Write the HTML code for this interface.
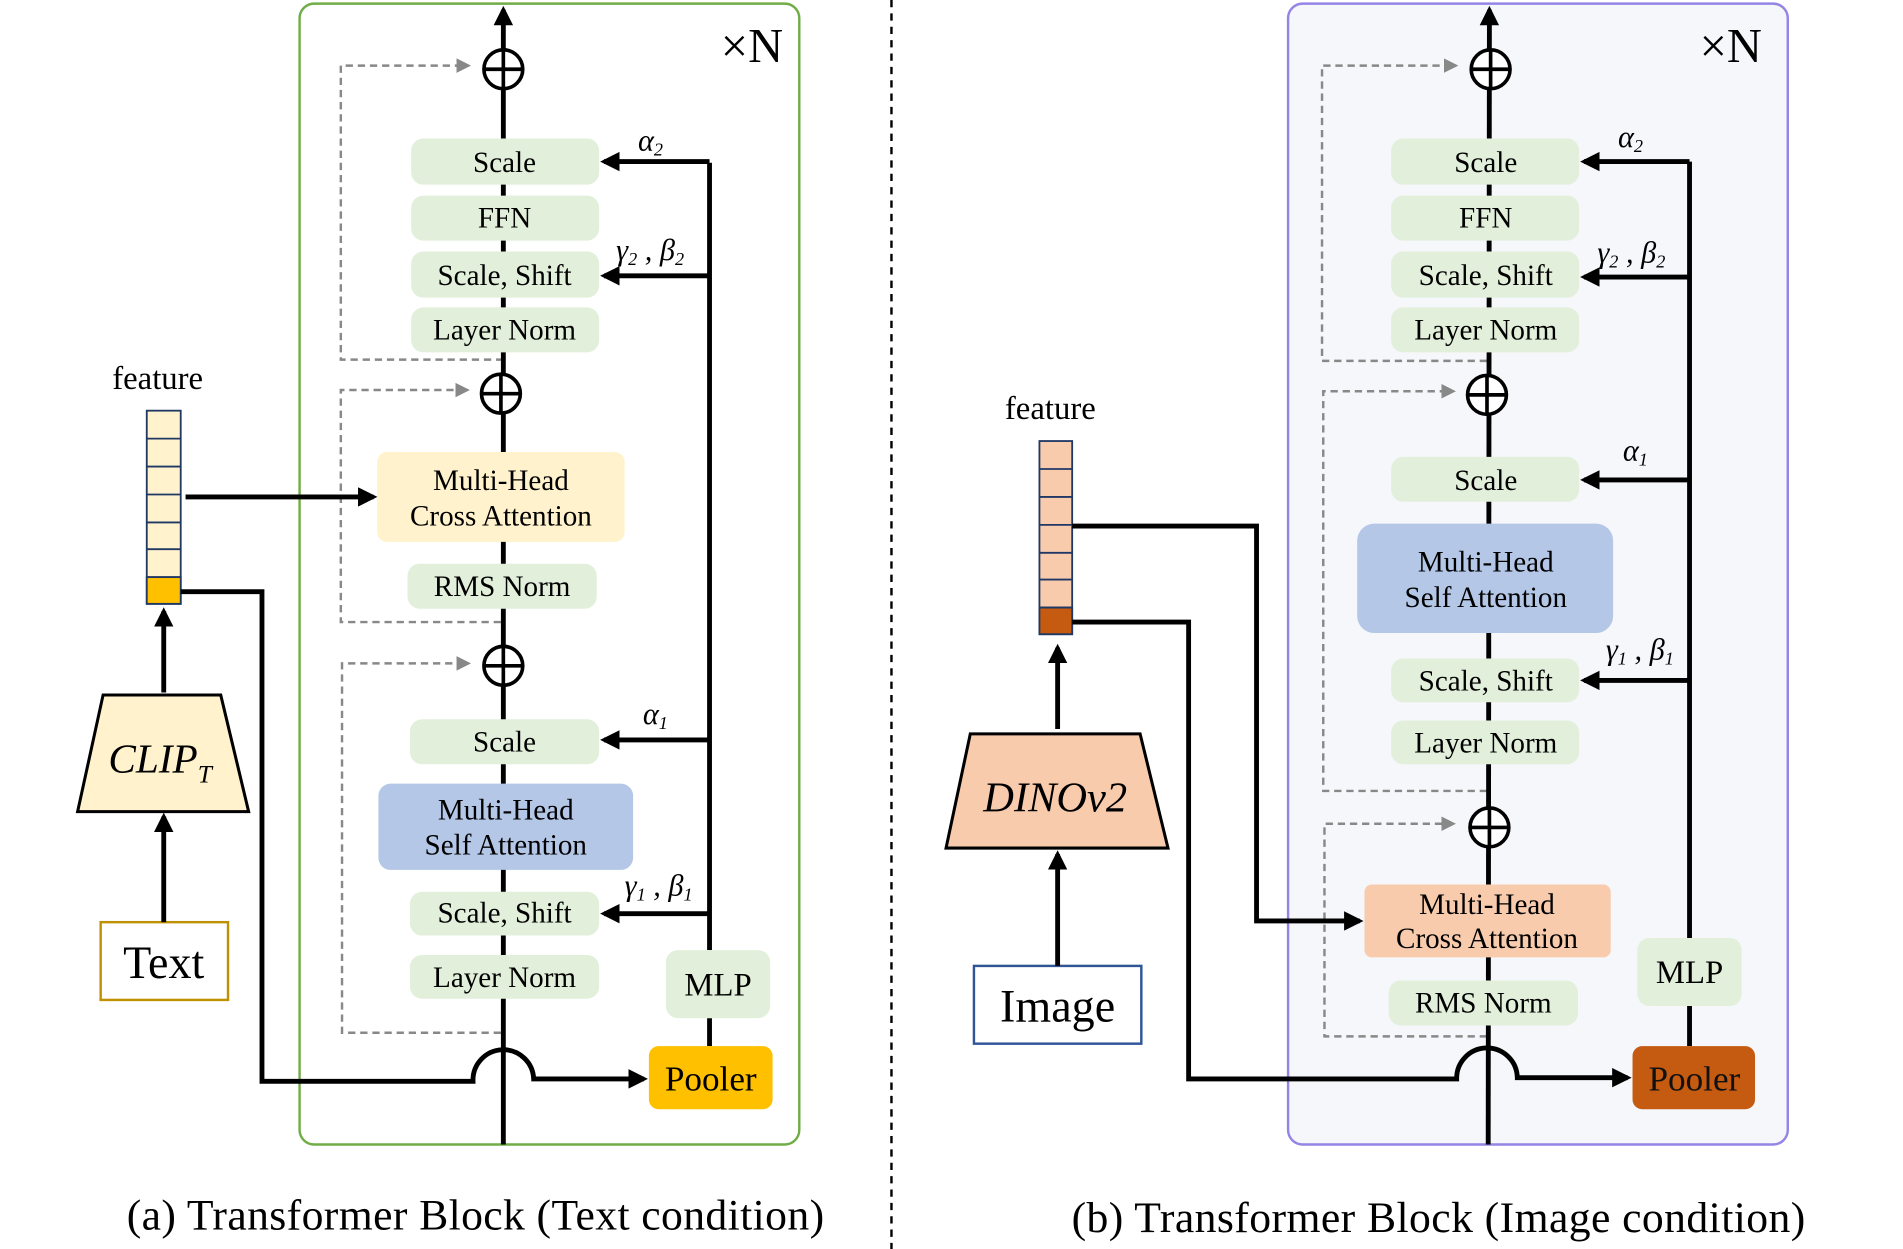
<!DOCTYPE html>
<html><head><meta charset="utf-8"><style>html,body{margin:0;padding:0;background:#fff}svg{display:block}</style></head>
<body>
<svg width="1903" height="1249" viewBox="0 0 1569 1028" preserveAspectRatio="none" xmlns="http://www.w3.org/2000/svg" font-family="Liberation Serif, serif">
<defs>
<marker id="a" viewBox="0 0 10 10" refX="8" refY="5" markerWidth="4" markerHeight="4" orient="auto"><path d="M0,0L10,5L0,10z" fill="#000"/></marker>
<marker id="g" viewBox="0 0 10 10" refX="8" refY="5" markerWidth="6" markerHeight="6" orient="auto"><path d="M0,0L10,5L0,10z" fill="#888"/></marker>
</defs>
<style>
.t{text-anchor:middle;dominant-baseline:central}
.k{stroke:#000;stroke-width:4;fill:none}
.d{stroke:#888;stroke-width:2;fill:none;stroke-dasharray:6 4}
.gr{fill:#e2efda}
.m{font-style:italic}
</style>

<!-- LEFT PANEL -->
<rect x="247" y="3" width="412" height="939" rx="12" fill="#fff" stroke="#70ad47" stroke-width="2"/>
<text x="620" y="51" font-size="40" text-anchor="middle">×N</text>
<path class="d" d="M415,296H281V54H386" marker-end="url(#g)"/>
<path class="d" d="M413,512H281V321H385" marker-end="url(#g)"/>
<path class="d" d="M413,850H282V546H386" marker-end="url(#g)"/>
<line class="k" x1="415" y1="942" x2="415" y2="8" marker-end="url(#a)"/>
<line class="k" x1="585" y1="134" x2="585" y2="782"/>
<line class="k" x1="585" y1="838" x2="585" y2="861"/>
<g stroke="#000" stroke-width="4" marker-end="url(#a)">
<line x1="585" y1="133" x2="498" y2="133"/><line x1="585" y1="227" x2="498" y2="227"/>
<line x1="585" y1="609" x2="498" y2="609"/><line x1="585" y1="752" x2="498" y2="752"/>
</g>
<g fill="#fff" stroke="#000" stroke-width="3">
<circle cx="415" cy="57" r="16"/><circle cx="413" cy="324" r="16"/><circle cx="415" cy="548" r="16"/>
</g>
<g stroke="#000" stroke-width="3">
<path d="M399,57H431M415,41V73M397,324H429M413,308V340M399,548H431M415,532V564"/>
</g>
<g class="gr">
<rect x="339" y="114" width="155" height="38" rx="10"/><rect x="339" y="161" width="155" height="37" rx="10"/>
<rect x="339" y="207" width="155" height="38" rx="10"/><rect x="339" y="253" width="155" height="37" rx="10"/>
<rect x="336" y="464" width="156" height="37" rx="10"/><rect x="338" y="592" width="156" height="37" rx="10"/>
<rect x="338" y="734" width="156" height="36" rx="10"/><rect x="338" y="786" width="156" height="36" rx="10"/>
<rect x="549" y="782" width="86" height="56" rx="10"/>
</g>
<rect x="311" y="372" width="204" height="74" rx="8" fill="#fff2cc"/>
<rect x="312" y="645" width="210" height="71" rx="10" fill="#b4c7e7"/>
<rect x="535" y="861" width="102" height="52" rx="8" fill="#ffc000"/>
<g font-size="24">
<text class="t" x="416" y="134">Scale</text><text class="t" x="416" y="180">FFN</text>
<text class="t" x="416" y="227">Scale, Shift</text><text class="t" x="416" y="272">Layer Norm</text>
<text class="t" x="413" y="396">Multi-Head</text><text class="t" x="413" y="425">Cross Attention</text>
<text class="t" x="414" y="483">RMS Norm</text><text class="t" x="416" y="611">Scale</text>
<text class="t" x="417" y="667">Multi-Head</text><text class="t" x="417" y="696">Self Attention</text>
<text class="t" x="416" y="752">Scale, Shift</text><text class="t" x="416" y="805">Layer Norm</text>
</g>
<text class="t" x="592" y="811" font-size="27">MLP</text><text class="t" x="586" y="888" font-size="29">Pooler</text>
<g font-size="25">
<text class="m" x="526" y="124">α<tspan font-size="15" dy="4">2</tspan></text>
<text class="m" x="508" y="214">γ<tspan font-size="15" dy="4">2</tspan><tspan dy="-4"> , β</tspan><tspan font-size="15" dy="4">2</tspan></text>
<text class="m" x="530" y="596">α<tspan font-size="15" dy="4">1</tspan></text>
<text class="m" x="515" y="737">γ<tspan font-size="15" dy="4">1</tspan><tspan dy="-4"> , β</tspan><tspan font-size="15" dy="4">1</tspan></text>
</g>
<!-- feature left -->
<text x="130" y="320" font-size="27" text-anchor="middle">feature</text>
<g stroke="#203864" stroke-width="1.5">
<rect x="121" y="338" width="28" height="159" fill="#fff2cc"/>
<rect x="121" y="475" width="28" height="22" fill="#ffc000"/>
<path d="M121,361H149M121,384H149M121,407H149M121,430H149M121,452H149M121,475H149"/>
</g>
<line class="k" x1="153" y1="409" x2="308" y2="409" marker-end="url(#a)"/>
<path class="k" d="M149,487H216V890H390A25,25 0 0 1 440,888H531" marker-end="url(#a)"/>
<path d="M85,572H182L205,668H64Z" fill="#fff2cc" stroke="#000" stroke-width="2.5"/>
<text x="132" y="636" font-size="34" font-style="italic" text-anchor="middle">CLIP<tspan font-size="21" dy="8">T</tspan></text>
<line class="k" x1="135" y1="570" x2="135" y2="503" marker-end="url(#a)"/>
<rect x="83" y="759" width="105" height="64" fill="#fff" stroke="#bf9000" stroke-width="2"/>
<text class="t" x="135" y="792" font-size="38">Text</text>
<line class="k" x1="135" y1="759" x2="135" y2="672" marker-end="url(#a)"/>
<text x="392" y="1012" font-size="36" text-anchor="middle" textLength="575">(a) Transformer Block (Text condition)</text>

<line x1="735" y1="0" x2="735" y2="1028" stroke="#000" stroke-width="2" stroke-dasharray="6 5"/>

<!-- RIGHT PANEL -->
<rect x="1062" y="3" width="412" height="939" rx="12" fill="#f5f7fa" stroke="#9484e6" stroke-width="2"/>
<text x="1427" y="51" font-size="40" text-anchor="middle">×N</text>
<path class="d" d="M1226,297H1090V54H1200" marker-end="url(#g)"/>
<path class="d" d="M1226,651H1091V322H1198" marker-end="url(#g)"/>
<path class="d" d="M1226,853H1092V678H1198" marker-end="url(#g)"/>
<line class="k" x1="1227" y1="942" x2="1228" y2="8" marker-end="url(#a)"/>
<line class="k" x1="1393" y1="133" x2="1393" y2="772"/>
<line class="k" x1="1393" y1="828" x2="1393" y2="861"/>
<g stroke="#000" stroke-width="4" marker-end="url(#a)">
<line x1="1393" y1="133" x2="1306" y2="133"/><line x1="1393" y1="228" x2="1306" y2="228"/>
<line x1="1393" y1="395" x2="1306" y2="395"/><line x1="1393" y1="560" x2="1306" y2="560"/>
</g>
<g fill="#fff" stroke="#000" stroke-width="3">
<circle cx="1229" cy="57" r="16"/><circle cx="1226" cy="325" r="16"/><circle cx="1228" cy="681" r="16"/>
</g>
<g stroke="#000" stroke-width="3">
<path d="M1213,57H1245M1229,41V73M1210,325H1242M1226,309V341M1212,681H1244M1228,665V697"/>
</g>
<g class="gr">
<rect x="1147" y="114" width="155" height="38" rx="10"/><rect x="1147" y="161" width="155" height="37" rx="10"/>
<rect x="1147" y="207" width="155" height="38" rx="10"/><rect x="1147" y="253" width="155" height="37" rx="10"/>
<rect x="1147" y="376" width="155" height="37" rx="10"/><rect x="1147" y="542" width="155" height="36" rx="10"/>
<rect x="1147" y="593" width="155" height="36" rx="10"/><rect x="1145" y="807" width="156" height="37" rx="10"/>
<rect x="1350" y="772" width="86" height="56" rx="10"/>
</g>
<rect x="1119" y="431" width="211" height="90" rx="14" fill="#b4c7e7"/>
<rect x="1125" y="728" width="203" height="60" rx="6" fill="#f8cbad"/>
<rect x="1346" y="861" width="101" height="52" rx="8" fill="#c55a11"/>
<g font-size="24">
<text class="t" x="1225" y="134">Scale</text><text class="t" x="1225" y="180">FFN</text>
<text class="t" x="1225" y="227">Scale, Shift</text><text class="t" x="1225" y="272">Layer Norm</text>
<text class="t" x="1225" y="396">Scale</text>
<text class="t" x="1225" y="463">Multi-Head</text><text class="t" x="1225" y="492">Self Attention</text>
<text class="t" x="1225" y="561">Scale, Shift</text><text class="t" x="1225" y="612">Layer Norm</text>
<text class="t" x="1226" y="745">Multi-Head</text><text class="t" x="1226" y="773">Cross Attention</text>
<text class="t" x="1223" y="826">RMS Norm</text>
</g>
<text class="t" x="1393" y="801" font-size="27">MLP</text><text class="t" x="1397" y="888" font-size="29" fill="#111">Pooler</text>
<g font-size="25">
<text class="m" x="1334" y="121">α<tspan font-size="15" dy="4">2</tspan></text>
<text class="m" x="1317" y="216">γ<tspan font-size="15" dy="4">2</tspan><tspan dy="-4"> , β</tspan><tspan font-size="15" dy="4">2</tspan></text>
<text class="m" x="1338" y="379">α<tspan font-size="15" dy="4">1</tspan></text>
<text class="m" x="1324" y="543">γ<tspan font-size="15" dy="4">1</tspan><tspan dy="-4"> , β</tspan><tspan font-size="15" dy="4">1</tspan></text>
</g>
<!-- feature right -->
<text x="866" y="345" font-size="27" text-anchor="middle">feature</text>
<g stroke="#203864" stroke-width="1.5">
<rect x="857" y="363" width="27" height="159" fill="#f8cbad"/>
<rect x="857" y="500" width="27" height="22" fill="#c55a11"/>
<path d="M857,386H884M857,409H884M857,432H884M857,455H884M857,477H884M857,500H884"/>
</g>
<path class="k" d="M884,433H1036V758H1121" marker-end="url(#a)"/>
<path class="k" d="M884,512H980V888H1201A25,25 0 0 1 1251,887H1342" marker-end="url(#a)"/>
<path d="M800,604H940L963,698H780Z" fill="#f8cbad" stroke="#000" stroke-width="2.5"/>
<text x="870" y="668" font-size="35" font-style="italic" text-anchor="middle">DINOv2</text>
<line class="k" x1="872" y1="600" x2="872" y2="533" marker-end="url(#a)"/>
<rect x="803" y="795" width="138" height="64" fill="#fff" stroke="#2f5597" stroke-width="2"/>
<text class="t" x="872" y="828" font-size="38">Image</text>
<line class="k" x1="872" y1="795" x2="872" y2="703" marker-end="url(#a)"/>
<text x="1186" y="1014" font-size="36" text-anchor="middle" textLength="605">(b) Transformer Block (Image condition)</text>
</svg>
</body></html>
